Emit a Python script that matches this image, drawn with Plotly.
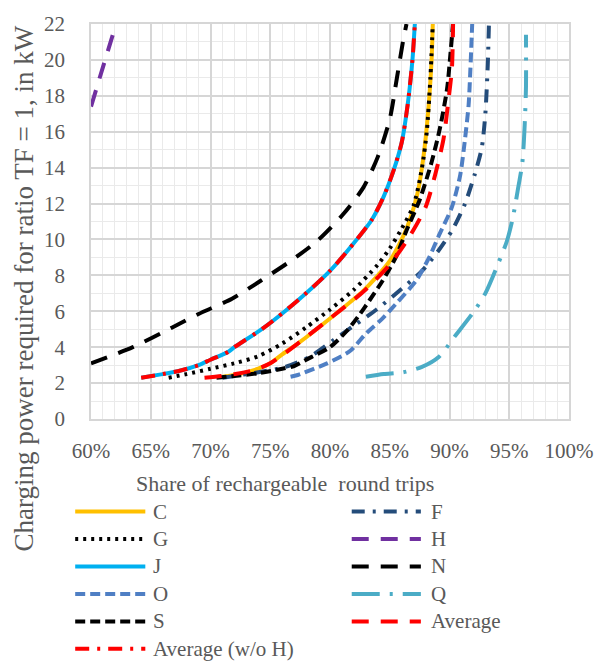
import plotly.graph_objects as go

# ---------------- data ----------------
# x: share of rechargeable round trips (%), y: charging power (kW)
C_x = [71.0, 72.0, 73.0, 74.0, 75.0, 76.0, 77.3, 80.0, 82.8, 85.0, 86.4, 87.3, 87.8, 88.2, 88.5, 88.6]
C_y = [2.35, 2.45, 2.6, 2.8, 3.1, 3.6, 4.2, 5.6, 7.15, 8.8, 10.6, 12.5, 14.5, 17.0, 20.0, 22.0]

F_x = [71.0, 72.0, 74.0, 76.0, 76.7, 78.4, 80.3, 82.0, 83.9, 86.0, 87.7, 89.1, 90.3, 91.3, 92.1, 92.7, 93.0, 93.2, 93.3]
F_y = [2.3, 2.4, 2.6, 2.85, 3.0, 3.5, 4.4, 5.2, 6.1, 7.25, 8.25, 9.4, 10.6, 12.0, 13.6, 15.1, 17.0, 19.7, 22.0]

G_x = [66.5, 68.0, 70.0, 72.0, 74.0, 76.0, 78.0, 80.0, 82.0, 84.0, 85.0, 86.0, 87.0, 87.7, 88.1, 88.4, 88.6]
G_y = [2.3, 2.5, 2.8, 3.1, 3.5, 4.2, 5.1, 6.1, 7.2, 8.6, 9.5, 10.6, 11.9, 14.0, 16.0, 19.0, 22.0]

H_x = [60.0, 61.0, 62.1]
H_y = [17.4, 19.6, 22.0]

J_x = [64.2, 66.0, 67.5, 69.0, 70.0, 71.5, 72.0, 74.5, 77.3, 80.0, 82.0, 83.5, 84.5, 85.3, 86.0, 86.5, 86.9, 87.1]
J_y = [2.3, 2.5, 2.7, 3.0, 3.3, 3.75, 4.0, 5.1, 6.6, 8.25, 9.8, 11.1, 12.4, 13.8, 15.4, 17.5, 20.0, 22.0]

N_x = [60.0, 63.5, 66.8, 69.0, 71.8, 74.2, 76.7, 78.9, 81.1, 82.8, 84.0, 85.0, 85.6, 86.1, 86.4]
N_y = [3.1, 4.0, 5.1, 5.85, 6.7, 7.7, 8.8, 9.9, 11.4, 12.9, 14.6, 16.7, 19.0, 21.0, 22.0]

O_x = [76.7, 77.3, 79.75, 81.7, 83.0, 84.4, 85.5, 87.2, 88.3, 89.1, 90.2, 90.9, 91.3, 91.6, 91.75, 91.9]
O_y = [2.35, 2.45, 3.1, 3.8, 4.75, 5.6, 6.4, 7.7, 9.0, 10.2, 11.8, 13.6, 15.6, 17.5, 19.5, 22.0]

Q_x = [83.0, 84.5, 86.1, 87.7, 89.1, 90.5, 92.0, 93.0, 94.1, 94.8, 95.3, 95.7, 96.1, 96.3, 96.4, 96.4]
Q_y = [2.35, 2.5, 2.6, 2.9, 3.45, 4.65, 5.95, 7.0, 8.7, 9.9, 11.2, 12.7, 14.3, 16.5, 18.5, 21.4]

S_x = [70.5, 72.0, 74.0, 76.0, 77.0, 78.0, 80.0, 81.4, 82.4, 83.3, 84.4, 85.5, 86.4, 87.5, 88.5, 89.2, 89.8, 90.1, 90.3]
S_y = [2.3, 2.4, 2.55, 2.8, 2.95, 3.3, 4.0, 4.9, 5.75, 6.6, 7.7, 9.0, 10.5, 12.2, 14.3, 16.2, 18.4, 20.5, 22.0]

AVG_x = [69.5, 71.0, 72.0, 73.5, 75.0, 77.3, 80.0, 82.8, 85.0, 86.6, 88.0, 88.8, 89.5, 89.9, 90.2, 90.3]
AVG_y = [2.3, 2.4, 2.5, 2.7, 3.1, 4.2, 5.6, 7.1, 8.6, 10.1, 11.8, 13.6, 15.6, 17.7, 19.5, 22.0]

AVGWH_x = [64.2, 66.0, 67.5, 69.0, 70.0, 71.5, 72.0, 74.5, 77.3, 80.0, 82.0, 83.5, 84.5, 85.3, 86.0, 86.5, 86.9, 87.1]
AVGWH_y = [2.3, 2.5, 2.7, 3.0, 3.3, 3.75, 4.0, 5.1, 6.6, 8.25, 9.8, 11.1, 12.4, 13.8, 15.4, 17.5, 20.0, 22.0]

names = ["C", "F", "G", "H", "J", "N", "O", "Q", "S", "Average", "Average (w/o H)"]
xs = [C_x, F_x, G_x, H_x, J_x, N_x, O_x, Q_x, S_x, AVG_x, AVGWH_x]
ys = [C_y, F_y, G_y, H_y, J_y, N_y, O_y, Q_y, S_y, AVG_y, AVGWH_y]

x_ticks = [60, 65, 70, 75, 80, 85, 90, 95, 100]
y_ticks = [0, 2, 4, 6, 8, 10, 12, 14, 16, 18, 20, 22]

# ---------------- styles ----------------
styles = {
    "C": dict(color="#FFC000", dash="solid"),
    "F": dict(color="#244C7A", dash="13px,8px,3px,8px"),
    "G": dict(color="#000000", dash="3px,5px"),
    "H": dict(color="#7030A0", dash="17px,12px"),
    "J": dict(color="#00B0F0", dash="solid"),
    "N": dict(color="#000000", dash="17px,12px"),
    "O": dict(color="#4F7FC4", dash="10px,5px"),
    "Q": dict(color="#4BACC6", dash="28px,10px,3px,10px"),
    "S": dict(color="#000000", dash="10px,5px"),
    "Average": dict(color="#FF0000", dash="17px,12px"),
    "Average (w/o H)": dict(color="#FF0000", dash="14px,8px,3px,8px"),
}

FONT = "Liberation Serif"
TXT = "#595959"
W, H = 606, 665
L, R, T, B = 91, 31, 22, 246
PW, PH = W - L - R, H - T - B

fig = go.Figure()
for n, x, y in zip(names, xs, ys):
    st = styles[n]
    fig.add_trace(go.Scatter(
        x=x, y=y, name=n, mode="lines", showlegend=False,
        line=dict(color=st["color"], dash=st["dash"], width=4,
                  shape="spline", smoothing=0.7),
        cliponaxis=True,
    ))

def px2paper(px, py):
    return (px - L) / PW, (T + PH - py) / PH

# manual legend (two columns, long line samples)
shapes = []
annotations = []
row0, rowstep = 512, 27.6
cols = [(75, 146, 152), (355, 425, 433)]
for i, n in enumerate(names):
    c, r = i % 2, i // 2
    x0, x1, xt = cols[c]
    yy = row0 + r * rowstep
    a0, b0 = px2paper(x0, yy)
    a1, _ = px2paper(x1, yy)
    at, _ = px2paper(xt, yy)
    st = styles[n]
    shapes.append(dict(type="line", xref="paper", yref="paper",
                       x0=a0, x1=a1, y0=b0, y1=b0,
                       line=dict(color=st["color"], dash=st["dash"], width=4)))
    annotations.append(dict(text=n, xref="paper", yref="paper", x=at, y=b0,
                            xanchor="left", yanchor="middle", showarrow=False,
                            font=dict(family=FONT, size=21, color=TXT)))

ax, ay = px2paper(23, 288)
annotations.append(dict(text="Charging power required for ratio TF = 1, in kW",
                        xref="paper", yref="paper", x=ax, y=ay, textangle=-90,
                        xanchor="center", yanchor="middle", showarrow=False,
                        font=dict(family=FONT, size=27, color=TXT)))
bx, by = px2paper(287, 484)
annotations.append(dict(text="Share of rechargeable  round trips",
                        xref="paper", yref="paper", x=bx, y=by,
                        xanchor="center", yanchor="middle", showarrow=False,
                        font=dict(family=FONT, size=22, color=TXT)))

grid_major = "#D6D6D6"
grid_minor = "#EAEAEA"

fig.update_layout(
    width=W, height=H,
    margin=dict(l=L, r=R, t=T, b=B, pad=0),
    paper_bgcolor="white", plot_bgcolor="white",
    showlegend=False,
    shapes=shapes, annotations=annotations,
    font=dict(family=FONT, color=TXT),
    xaxis=dict(range=[60, 100], tickvals=x_ticks,
               ticktext=[f"{v}%" for v in x_ticks],
               showgrid=True, gridcolor=grid_major, gridwidth=1.6,
               minor=dict(dtick=1, tick0=60, showgrid=True, gridcolor=grid_minor, gridwidth=1),
               showline=True, linecolor=grid_major, linewidth=1.6, mirror=True,
               zeroline=False, ticks="", ticklabelstandoff=12,
               tickfont=dict(family=FONT, size=21, color=TXT)),
    yaxis=dict(range=[0, 22], tickvals=y_ticks,
               showgrid=True, gridcolor=grid_major, gridwidth=1.6,
               minor=dict(dtick=1, tick0=0, showgrid=True, gridcolor=grid_minor, gridwidth=1),
               showline=True, linecolor=grid_major, linewidth=1.6, mirror=True,
               zeroline=False, ticks="", ticklabelstandoff=20,
               tickfont=dict(family=FONT, size=21, color=TXT)),
)

fig.write_html("out.html")
